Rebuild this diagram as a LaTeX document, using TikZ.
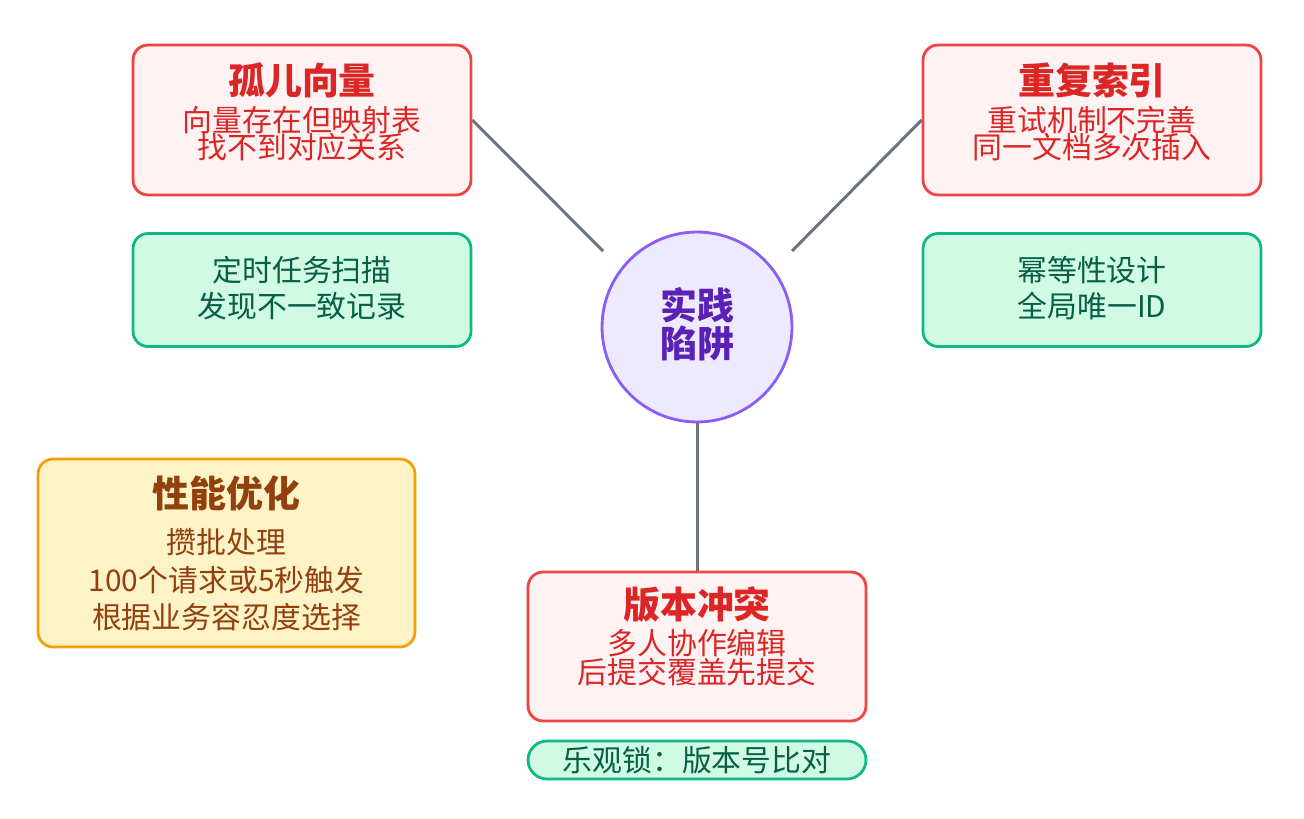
\documentclass[tikz,border=0pt]{standalone}
\usepackage{fontspec}
\setmainfont{Noto Sans CJK SC}
\definecolor{trapred}{HTML}{DC2626}
\definecolor{trapredline}{HTML}{EF4444}
\definecolor{trapredfill}{HTML}{FEF2F2}
\definecolor{fixgreen}{HTML}{065F46}
\definecolor{fixgreenline}{HTML}{10B981}
\definecolor{fixgreenfill}{HTML}{D1FAE5}
\definecolor{perftext}{HTML}{92400E}
\definecolor{perfline}{HTML}{F59E0B}
\definecolor{perffill}{HTML}{FEF3C7}
\definecolor{coretext}{HTML}{5B21B6}
\definecolor{coreline}{HTML}{8B5CF6}
\definecolor{corefill}{HTML}{EDE9FE}
\definecolor{linkgray}{HTML}{6B7280}
\begin{document}
\begin{tikzpicture}[x=0.02cm,y=-0.02cm,
  trapbox/.style={draw=trapredline,fill=trapredfill,line width=1.6pt,rounded corners=0.3cm,minimum width=6.76cm,inner sep=0pt},
  fixbox/.style={draw=fixgreenline,fill=fixgreenfill,line width=1.6pt,rounded corners=0.3cm,minimum width=6.76cm,inner sep=0pt},
  perfbox/.style={draw=perfline,fill=perffill,line width=1.6pt,rounded corners=0.3cm,minimum width=7.54cm,minimum height=3.76cm,inner sep=0pt},
  ttl/.style={font=\fontsize{21}{24}\selectfont\bfseries},
  sub/.style={font=\fontsize{17}{20}\selectfont},
  link/.style={draw=linkgray,line width=1.7pt}]
\useasboundingbox (0,0) rectangle (1304,818);
% centre
\node[circle,draw=coreline,fill=corefill,line width=1.6pt,minimum size=3.8cm,inner sep=0pt] (core) at (697,327) {};
\node[ttl,text=coretext] (coreA) at (697,305) {实践};
\node[ttl,text=coretext] (coreB) at (697,343) {陷阱};
% orphan vectors
\node[trapbox,minimum height=3.0cm] (orphan) at (302,120) {};
\node[ttl,text=trapred] (orphanT) at (302,80) {孤儿向量};
\node[sub,text=trapred] (orphanA) at (302,120) {向量存在但映射表};
\node[sub,text=trapred] (orphanB) at (302,147) {找不到对应关系};
\node[fixbox,minimum height=2.26cm] (scan) at (302,290) {};
\node[sub,text=fixgreen] (scanA) at (302,270) {定时任务扫描};
\node[sub,text=fixgreen] (scanB) at (302,306) {发现不一致记录};
% duplicate index
\node[trapbox,minimum height=3.0cm] (dup) at (1092,120) {};
\node[ttl,text=trapred] (dupT) at (1092,80) {重复索引};
\node[sub,text=trapred] (dupA) at (1092,120) {重试机制不完善};
\node[sub,text=trapred] (dupB) at (1092,147) {同一文档多次插入};
\node[fixbox,minimum height=2.26cm] (idem) at (1092,290) {};
\node[sub,text=fixgreen] (idemA) at (1092,270) {幂等性设计};
\node[sub,text=fixgreen] (idemB) at (1092,306) {全局唯一ID};
% performance
\node[perfbox] (perf) at (226.5,553) {};
\node[ttl,text=perftext] (perfT) at (226.5,493) {性能优化};
\node[sub,text=perftext] (perfA) at (226.5,542) {攒批处理};
\node[sub,text=perftext] (perfB) at (226.5,580) {100个请求或5秒触发};
\node[sub,text=perftext] (perfC) at (226.5,617) {根据业务容忍度选择};
% version conflict
\node[trapbox,minimum height=2.98cm] (conflict) at (697,646.5) {};
\node[ttl,text=trapred] (conflictT) at (697,605) {版本冲突};
\node[sub,text=trapred] (conflictA) at (697,643) {多人协作编辑};
\node[sub,text=trapred] (conflictB) at (697,672) {后提交覆盖先提交};
\node[fixbox,minimum height=0.76cm,rounded corners=0.38cm] (lock) at (697,760) {};
\node[sub,text=fixgreen] (lockA) at (697,760) {乐观锁：版本号比对};
% links
\coordinate (orphanEnd) at (603,251);
\coordinate (dupEnd) at (792,251);
\draw[link] (orphan.east) -- (orphanEnd);
\draw[link] (dup.west) -- (dupEnd);
\draw[link] (core.south) -- (conflict.north);
\end{tikzpicture}
\end{document}
